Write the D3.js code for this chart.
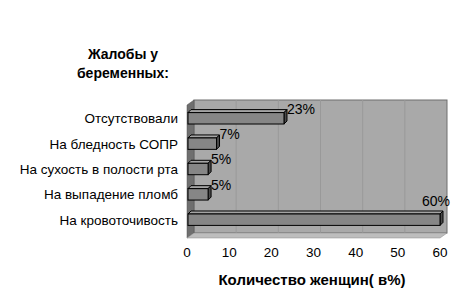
<!DOCTYPE html>
<html><head><meta charset="utf-8">
<script src="https://cdn.jsdelivr.net/npm/d3@7/dist/d3.min.js"></script>
<style>body{margin:0;background:#fff}svg{display:block}text{font-family:"Liberation Sans",Arial,sans-serif}</style>
</head><body><svg id="c" width="460" height="294"></svg>
<script>
const categories = ["Отсутствовали","На бледность СОПР","На сухость в полости рта","На выпадение пломб","На кровоточивость"];
const values = [23, 7, 5, 5, 60];
const valueLabels = ["23%","7%","5%","5%","60%"];
const ticks = [0,10,20,30,40,50,60];
const titleLines = ["Жалобы у","беременных:"];
const axisTitle = "Количество женщин( в%)";

const svg = d3.select("#c");
const x = d3.scaleLinear().domain([0,60]).range([187,440]);
const y = d3.scaleBand().domain(categories).range([105,233]).paddingInner(0.55).paddingOuter(0.3);
const DX = 7, DY = -5;   // wall depth
const top0 = 105, bot0 = 238;

// back wall
svg.append("rect").attr("x", x(0)+DX).attr("y", top0+DY).attr("width", x(60)-x(0)).attr("height", bot0-top0)
  .attr("fill","#a9a9a9").attr("stroke","#6e6e6e").attr("stroke-width",1);
// gridlines
svg.append("g").selectAll("line").data(ticks.slice(1,-1)).join("line")
  .attr("x1", d=>x(d)+DX).attr("x2", d=>x(d)+DX).attr("y1", top0+DY).attr("y2", bot0+DY)
  .attr("stroke","#999").attr("stroke-width",1);
// left wall
svg.append("path").attr("d", `M${x(0)},${top0} L${x(0)+DX},${top0+DY} L${x(0)+DX},${bot0+DY} L${x(0)},${bot0} Z`)
  .attr("fill","#6f6f6f").attr("stroke","#555").attr("stroke-width",0.5);
// floor
svg.append("path").attr("d", `M${x(0)},${bot0} L${x(0)+DX},${bot0+DY} L${x(60)+DX},${bot0+DY} L${x(60)},${bot0} Z`)
  .attr("fill","#bdbdbd").attr("stroke","#888").attr("stroke-width",0.5);

// bars
const bdx = 3, bdy = -3;
const g = svg.append("g");
categories.forEach((c,i)=>{
  const x0 = x(0)+1, x1 = x(values[i]), yt = y(c), h = y.bandwidth();
  g.append("path").attr("d", `M${x0},${yt} L${x0+bdx},${yt+bdy} L${x1+bdx},${yt+bdy} L${x1},${yt} Z`)
    .attr("fill","#a4a4a4").attr("stroke","#000").attr("stroke-width",1);
  g.append("path").attr("d", `M${x1},${yt} L${x1+bdx},${yt+bdy} L${x1+bdx},${yt+h+bdy} L${x1},${yt+h} Z`)
    .attr("fill","#4a4a4a").attr("stroke","#000").attr("stroke-width",1);
  g.append("rect").attr("x", x0).attr("y", yt).attr("width", x1-x0).attr("height", h)
    .attr("fill","#868686").attr("stroke","#000").attr("stroke-width",1);
  g.append("text").attr("x", x1+3).attr("y", yt+1).attr("font-size",14).attr("fill","#000").text(valueLabels[i]);
});
// adjust 60% label position
g.selectAll("text").filter((d,i)=>values[i]===60).attr("x", x(60)-18).attr("y", y(categories[4])-8);

// category labels
svg.append("g").selectAll("text").data(categories).join("text")
  .attr("x",178).attr("y", d=>y(d)+y.bandwidth()/2+5).attr("text-anchor","end")
  .attr("font-size",13.5).attr("fill","#000").text(d=>d);

// tick labels
svg.append("g").selectAll("text").data(ticks).join("text")
  .attr("x", d=>x(d)).attr("y",257).attr("text-anchor","middle").attr("font-size",13.5).attr("fill","#000").text(d=>d);

// titles
svg.append("g").selectAll("text").data(titleLines).join("text")
  .attr("x",123).attr("y",(d,i)=>59+i*19).attr("text-anchor","middle").attr("font-size",14)
  .attr("font-weight","bold").attr("fill","#000").text(d=>d);
svg.append("text").attr("x",312).attr("y",285).attr("text-anchor","middle").attr("font-size",15)
  .attr("font-weight","bold").attr("fill","#000").text(axisTitle);
</script></body></html>
